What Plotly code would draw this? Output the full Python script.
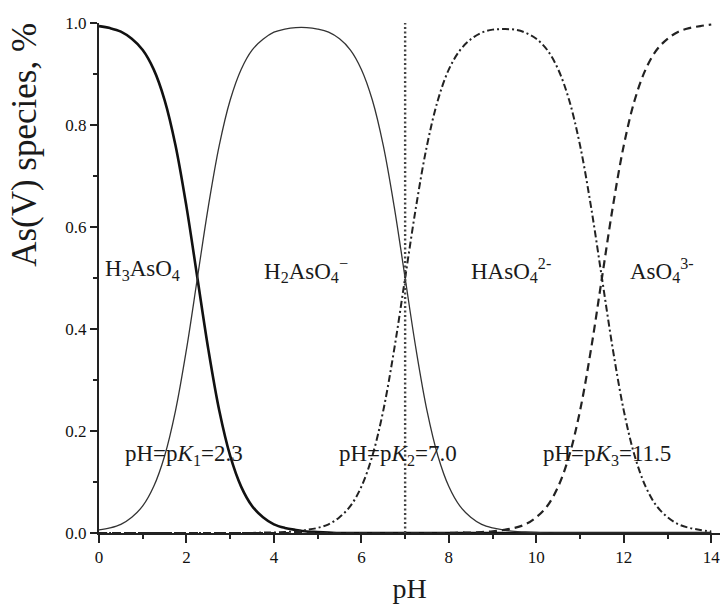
import plotly.graph_objects as go

ph = [i * 0.25 for i in range(57)]

h3aso4 = [0.994, 0.990, 0.983, 0.969, 0.947, 0.909, 0.849, 0.760, 0.640, 0.500,
          0.360, 0.240, 0.151, 0.091, 0.053, 0.031, 0.017, 0.010, 0.006, 0.003,
          0.002, 0.001] + [0.0] * 35

h2aso4 = [0.006, 0.010, 0.017, 0.031, 0.053, 0.091, 0.151, 0.240, 0.360, 0.500,
          0.640, 0.760, 0.849, 0.909, 0.947, 0.968, 0.982, 0.988, 0.991, 0.991,
          0.988, 0.982, 0.969, 0.947, 0.909, 0.849, 0.760, 0.640, 0.500, 0.360,
          0.240, 0.151, 0.091, 0.053, 0.031, 0.017, 0.010, 0.006, 0.003, 0.002,
          0.001] + [0.0] * 16

haso4 = [0.0] * 15 + [0.001, 0.001, 0.002, 0.003, 0.006, 0.010, 0.017, 0.031, 0.053,
          0.091, 0.151, 0.240, 0.360, 0.500, 0.640, 0.760, 0.849, 0.909, 0.946,
          0.968, 0.981, 0.987, 0.988, 0.987, 0.981, 0.969, 0.947, 0.909, 0.849,
          0.760, 0.640, 0.500, 0.360, 0.240, 0.151, 0.091, 0.053, 0.031, 0.017,
          0.010, 0.006, 0.003]

aso4 = [0.0] * 32 + [0.000, 0.001, 0.001, 0.002, 0.003, 0.006, 0.010, 0.017, 0.031,
          0.053, 0.091, 0.151, 0.240, 0.360, 0.500, 0.640, 0.760, 0.849, 0.909,
          0.947, 0.969, 0.983, 0.990, 0.994, 0.997]

species_labels = ["H<sub>3</sub>AsO<sub>4</sub>", "H<sub>2</sub>AsO<sub>4</sub><sup>−</sup>",
                  "HAsO<sub>4</sub><sup>2-</sup>", "AsO<sub>4</sub><sup>3-</sup>"]
species_label_x = [0.08, 3.72, 8.45, 12.1]
species_label_y = 0.515

pk_labels = ["pH=p<i>K</i><sub>1</sub>=2.3", "pH=p<i>K</i><sub>2</sub>=7.0",
             "pH=p<i>K</i><sub>3</sub>=11.5"]
pk_label_x = [0.55, 5.45, 10.1]
pk_label_y = 0.153

pk2_line = 7.0

FONT = "Liberation Serif, Times New Roman, serif"
INK = "#1a1a1a"

fig = go.Figure()
fig.add_trace(go.Scatter(x=ph, y=h3aso4, mode="lines", line=dict(color="#111", width=2.6, shape="spline")))
fig.add_trace(go.Scatter(x=ph, y=h2aso4, mode="lines", line=dict(color="#333", width=1.3, shape="spline")))
fig.add_trace(go.Scatter(x=ph, y=haso4, mode="lines", line=dict(color="#222", width=2, dash="7px,3px,2px,3px", shape="spline")))
fig.add_trace(go.Scatter(x=ph, y=aso4, mode="lines", line=dict(color="#222", width=2.2, dash="8px,5px", shape="spline")))
fig.add_trace(go.Scatter(x=[pk2_line, pk2_line], y=[0, 1.0], mode="lines", line=dict(color="#444", width=2.4, dash="2px,2.5px")))

for t, x in zip(species_labels, species_label_x):
    fig.add_annotation(x=x, y=species_label_y, text=t, showarrow=False, xanchor="left", yanchor="middle",
                       font=dict(family=FONT, size=23, color=INK))
for t, x in zip(pk_labels, pk_label_x):
    fig.add_annotation(x=x, y=pk_label_y, text=t, showarrow=False, xanchor="left", yanchor="middle",
                       font=dict(family=FONT, size=23, color=INK))

fig.add_annotation(xref="paper", yref="paper", x=-0.12, y=0.762, text="As(V) species, %", textangle=-90,
                   showarrow=False, xanchor="center", yanchor="middle", font=dict(family=FONT, size=35, color=INK))

fig.update_layout(
    width=721, height=604, margin=dict(l=99, r=1, t=23, b=71),
    paper_bgcolor="white", plot_bgcolor="white", showlegend=False,
    font=dict(family=FONT, color=INK),
    xaxis=dict(range=[0, 14.2], tickvals=[0, 2, 4, 6, 8, 10, 12, 14], ticks="outside", ticklen=8, tickwidth=2,
               tickcolor="#222", showline=True, linewidth=2, linecolor="#222", showgrid=False, zeroline=False,
               tickfont=dict(size=17, family=FONT, color="#111"),
               minor=dict(dtick=1, tick0=0, ticks="outside", ticklen=4, tickwidth=2, tickcolor="#222", showgrid=False),
               title=dict(text="pH", font=dict(size=28, family=FONT, color=INK), standoff=12)),
    yaxis=dict(range=[0, 1.0], tickvals=[0, 0.2, 0.4, 0.6, 0.8, 1.0], tickformat=".1f", ticks="outside", ticklen=7,
               tickwidth=2, tickcolor="#222", showline=True, linewidth=2, linecolor="#222", showgrid=False,
               zeroline=False, tickfont=dict(size=17, family=FONT, color="#111"),
               minor=dict(dtick=0.1, tick0=0, ticks="outside", ticklen=4, tickwidth=2, tickcolor="#222", showgrid=False)),
)

fig.write_html("out.html")
